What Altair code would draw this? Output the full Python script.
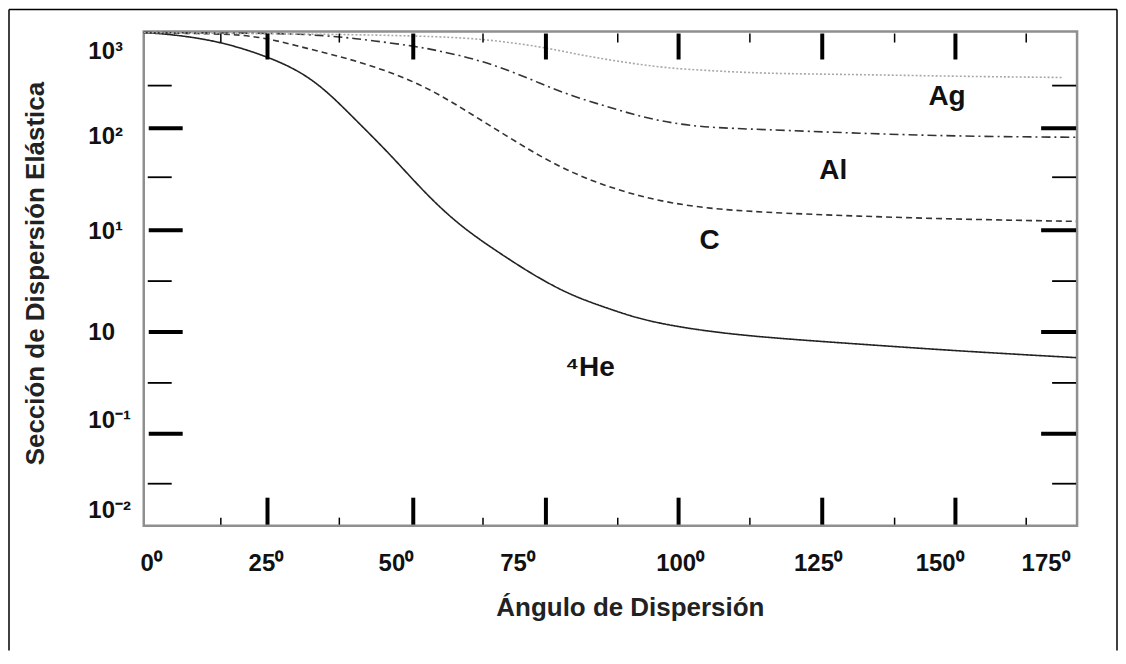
import altair as alt
import pandas as pd

# ---------------- data ----------------
# angle in degrees, elastic scattering cross-section (log axis)
he_angle = [0, 5.7, 14.7, 23.6, 29.9, 35.0, 40.7, 47.0, 53.3, 60.3, 69.3, 75.6, 81.9, 88.3, 94.6, 100.9, 107.4, 117.5, 136.5, 155.5, 177.8]
he_value = [873, 836, 713, 508, 362, 231, 117, 55.6, 24.1, 10.9, 5.31, 3.31, 2.25, 1.72, 1.34, 1.15, 1.02, 0.89, 0.76, 0.65, 0.56]

c_angle = [0, 10.9, 18.5, 24.7, 31.2, 37.5, 43.8, 50.2, 56.5, 62.8, 69.3, 75.6, 81.9, 88.3, 94.6, 100.9, 107.4, 117.5, 136.5, 155.5, 177.8]
c_value = [873, 853, 836, 746, 608, 508, 406, 309, 214, 135, 83.6, 53.1, 36.2, 27.0, 21.5, 18.4, 16.4, 15.0, 13.7, 12.8, 12.2]

al_angle = [0, 20, 30, 37.5, 43.8, 51.4, 56.5, 62.8, 69.3, 75.6, 81.9, 88.3, 94.6, 100.9, 107.4, 117.5, 136.5, 155.5, 177.8]
al_value = [873, 863, 845, 794, 724, 646, 575, 485, 378, 276, 206, 164, 131, 112, 102, 97.7, 89.3, 83.6, 81.7]

ag_angle = [0, 20, 40, 56.5, 65.7, 75.6, 81.9, 88.3, 94.6, 100.9, 107.4, 117.5, 136.5, 155.5, 175.2]
ag_value = [873, 853, 836, 798, 746, 637, 543, 474, 424, 387, 371, 346, 338, 324, 316]

series_names = ["He", "C", "Al", "Ag"]

# curve labels
label_text = ["Ag", "Al", "C", "\u2074He"]
label_angle = [153.2, 131.5, 107.9, 85.1]
label_value = [201, 37.8, 7.8, 0.44]

# axis tick labels (as placed in the picture)
x_label_pos = [1.3, 23.2, 48.0, 71.2, 102.2, 128.5, 151.7, 171.9]
x_label_text = ["0\u2070", "25\u2070", "50\u2070", "75\u2070", "100\u2070", "125\u2070", "150\u2070", "175\u2070"]
y_label_pos = [10 ** 2.755, 10 ** 1.922, 10 ** 0.99, 10 ** -0.01, 10 ** -0.873, 10 ** -1.755]
y_label_text = ["10\u00b3", "10\u00b2", "10\u00b9", "10", "10\u207b\u00b9", "10\u207b\u00b2"]

# tick marks drawn inside the frame
x_major_ticks = [23.6, 51.4, 76.7, 102.0, 129.4, 154.8]
x_minor_ticks = [14.7, 37.3, 64.7, 90.4, 115.6, 143.2, 168.3]
y_major_ticks = [100, 10, 1, 0.1]
y_minor_ticks = [10 ** 2.42, 10 ** 1.52, 10 ** 0.5, 10 ** -0.5, 10 ** -1.49]

# ---------------- build tables ----------------
rows = []
for name, xs, ys in [("He", he_angle, he_value), ("C", c_angle, c_value),
                     ("Al", al_angle, al_value), ("Ag", ag_angle, ag_value)]:
    for i, (a, v) in enumerate(zip(xs, ys)):
        rows.append({"serie": name, "angulo": a, "seccion": v, "orden": i})
curves = pd.DataFrame(rows)
labels = pd.DataFrame({"texto": label_text, "angulo": label_angle, "seccion": label_value})


def ternary(positions, texts):
    pairs = sorted(zip(positions, texts))
    expr = "'" + pairs[-1][1] + "'"
    for k in range(len(pairs) - 2, -1, -1):
        mid = (pairs[k][0] + pairs[k + 1][0]) / 2
        expr = f"datum.value < {mid} ? '{pairs[k][1]}' : ({expr})"
    return expr


W, H = 935, 495
FONT = "Liberation Sans"

x_scale = alt.Scale(domain=[0, 178], nice=False, zero=False)
y_scale = alt.Scale(type="log", domain=[10 ** -1.902, 10 ** 2.951], nice=False)

x_axis = alt.Axis(values=x_label_pos, labelExpr=ternary(x_label_pos, x_label_text),
                  ticks=False, tickSize=0, domain=False, grid=False, labelFlush=False,
                  labelFont=FONT, labelFontSize=24, labelFontWeight="bold", labelColor="#111",
                  labelPadding=26, labelBaseline="top",
                  title="Ángulo de Dispersión", titleFont=FONT, titleFontSize=26,
                  titleFontWeight="bold", titleColor="#222",
                  titleX=487, titleY=82, titleAlign="center", titleBaseline="middle")
y_axis = alt.Axis(values=y_label_pos, labelExpr=ternary(y_label_pos, y_label_text),
                  ticks=False, tickSize=0, domain=False, grid=False, labelFlush=False,
                  labelFont=FONT, labelFontSize=24, labelFontWeight="bold", labelColor="#111",
                  labelAlign="left", labelBaseline="middle", labelPadding=56,
                  title="Sección de Dispersión Elástica", titleFont=FONT, titleFontSize=26,
                  titleFontWeight="bold", titleColor="#222",
                  titleX=-108, titleY=242, titleAngle=270, titleAlign="center",
                  titleBaseline="middle")

lines = alt.Chart(curves).mark_line(strokeWidth=1.6, interpolate="basis").encode(
    x=alt.X("angulo:Q", scale=x_scale, axis=x_axis),
    y=alt.Y("seccion:Q", scale=y_scale, axis=y_axis),
    color=alt.Color("serie:N", scale=alt.Scale(domain=series_names,
                                               range=["#222222", "#333333", "#333333", "#a8a8a8"]),
                    legend=None),
    strokeDash=alt.StrokeDash("serie:N", scale=alt.Scale(domain=series_names,
                                                         range=[[1, 0], [6, 4], [9, 4, 2, 4], [2, 2]]),
                              legend=None),
    detail="serie:N",
    order="orden:Q",
)

text = alt.Chart(labels).mark_text(font=FONT, fontSize=28, fontWeight="bold", color="#111",
                                   align="center", baseline="middle").encode(
    x=alt.X("angulo:Q", scale=x_scale),
    y=alt.Y("seccion:Q", scale=y_scale),
    text="texto:N",
)

ymaj = pd.DataFrame({"v": y_major_ticks})
ymin = pd.DataFrame({"v": y_minor_ticks})
xmaj = pd.DataFrame({"v": x_major_ticks})
xmin = pd.DataFrame({"v": x_minor_ticks})

Yq = lambda: alt.Y("v:Q", scale=y_scale)
Xq = lambda: alt.X("v:Q", scale=x_scale)

tick_layers = [
    alt.Chart(ymaj).mark_rule(strokeWidth=4, color="black").encode(y=Yq(), x=alt.value(5), x2=alt.value(39)),
    alt.Chart(ymaj).mark_rule(strokeWidth=4, color="black").encode(y=Yq(), x=alt.value(W - 36), x2=alt.value(W - 1)),
    alt.Chart(ymin).mark_rule(strokeWidth=1.8, color="black").encode(y=Yq(), x=alt.value(4), x2=alt.value(28)),
    alt.Chart(ymin).mark_rule(strokeWidth=1.8, color="black").encode(y=Yq(), x=alt.value(W - 25), x2=alt.value(W - 1)),
    alt.Chart(xmaj).mark_rule(strokeWidth=4, color="black").encode(x=Xq(), y=alt.value(H - 28), y2=alt.value(H - 1)),
    alt.Chart(xmaj).mark_rule(strokeWidth=4, color="black").encode(x=Xq(), y=alt.value(2), y2=alt.value(28)),
    alt.Chart(xmin).mark_rule(strokeWidth=1.5, color="black").encode(x=Xq(), y=alt.value(H - 8), y2=alt.value(H - 1)),
    alt.Chart(xmin).mark_rule(strokeWidth=1.5, color="black").encode(x=Xq(), y=alt.value(2), y2=alt.value(11)),
]

# outer frame of the figure (left, top, right)
one = alt.Data(values=[{"k": 1}])
frame = [
    alt.Chart(one).mark_rule(color="black", strokeWidth=1.5).encode(x=alt.value(-135), y=alt.value(-22), y2=alt.value(620)),
    alt.Chart(one).mark_rule(color="black", strokeWidth=1.5).encode(x=alt.value(975), y=alt.value(-22), y2=alt.value(620)),
    alt.Chart(one).mark_rule(color="black", strokeWidth=1.5).encode(x=alt.value(-135), x2=alt.value(975), y=alt.value(-22)),
]

chart = alt.layer(lines, text, *tick_layers, *frame).properties(
    width=W, height=H, padding=0, background="white"
).configure_view(stroke="#8f8f8f", strokeWidth=2.5)

chart.save("out.html", embed_options={"renderer": "svg", "actions": False})
